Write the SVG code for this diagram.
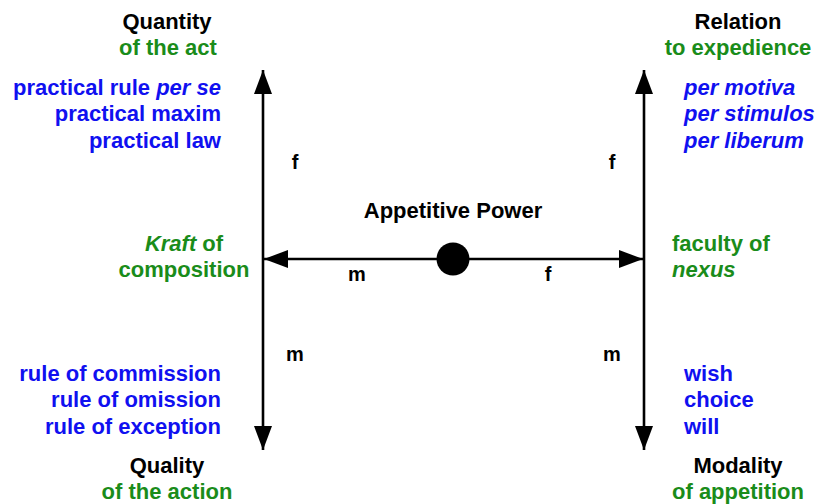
<svg xmlns="http://www.w3.org/2000/svg" width="818" height="504" viewBox="0 0 818 504">
<style>
text{font-family:"Liberation Sans",Arial,sans-serif;font-weight:bold;font-size:22px}
.k{fill:#000}
.g{fill:#1a8c1a}
.b{fill:#1010f0}
.i{font-style:italic}
.e{text-anchor:end}
.m{text-anchor:middle}
.s{font-size:20px}
.ln{stroke:#000;stroke-width:2.6;fill:none}
</style>
<defs>
<marker id="ah" viewBox="0 0 24 18" refX="24" refY="9" markerWidth="24" markerHeight="18" markerUnits="userSpaceOnUse" orient="auto">
<path d="M0,0 L24,9 L0,18 Z" fill="#000"/>
</marker>
</defs>
<rect width="818" height="504" fill="#fff"/>
<g id="connectors">
<line class="ln" x1="263" y1="259" x2="263" y2="70" marker-end="url(#ah)"/>
<line class="ln" x1="263" y1="259" x2="263" y2="450" marker-end="url(#ah)"/>
<line class="ln" x1="644" y1="259" x2="644" y2="70" marker-end="url(#ah)"/>
<line class="ln" x1="644" y1="259" x2="644" y2="450" marker-end="url(#ah)"/>
<line class="ln" x1="453" y1="259" x2="264" y2="259" marker-end="url(#ah)"/>
<line class="ln" x1="453" y1="259" x2="643" y2="259" marker-end="url(#ah)"/>
<text class="k s" x="295" y="169" text-anchor="middle">f</text>
<text class="k s" x="612" y="169" text-anchor="middle">f</text>
<text class="k s" x="295" y="361" text-anchor="middle">m</text>
<text class="k s" x="612" y="361" text-anchor="middle">m</text>
<text class="k s" x="357" y="281" text-anchor="middle">m</text>
<text class="k s" x="548" y="281" text-anchor="middle">f</text>
</g>
<g id="center">
<circle cx="453" cy="259" r="16.5" fill="#000"/>
<text class="k m" x="453" y="218">Appetitive Power</text>
</g>
<g id="quantity">
<text class="k m" x="167" y="29">Quantity</text>
<text class="g m" x="168" y="55">of the act</text>
<text class="b e" x="221" y="95">practical rule <tspan class="i">per se</tspan></text>
<text class="b e" x="221" y="121">practical maxim</text>
<text class="b e" x="221" y="148">practical law</text>
</g>
<g id="relation">
<text class="k m" x="738" y="29">Relation</text>
<text class="g m" x="738" y="55">to expedience</text>
<text class="b i" x="684" y="95">per motiva</text>
<text class="b i" x="684" y="121">per stimulos</text>
<text class="b i" x="684" y="148">per liberum</text>
</g>
<g id="kraft">
<text class="g m" x="184" y="251"><tspan class="i">Kraft</tspan> of</text>
<text class="g m" x="184" y="277">composition</text>
</g>
<g id="faculty">
<text class="g" x="672" y="251">faculty of</text>
<text class="g i" x="672" y="277">nexus</text>
</g>
<g id="quality">
<text class="b e" x="221" y="381">rule of commission</text>
<text class="b e" x="221" y="407">rule of omission</text>
<text class="b e" x="221" y="434">rule of exception</text>
<text class="k m" x="167" y="473">Quality</text>
<text class="g m" x="167" y="499">of the action</text>
</g>
<g id="modality">
<text class="b" x="684" y="381">wish</text>
<text class="b" x="684" y="407">choice</text>
<text class="b" x="684" y="434">will</text>
<text class="k m" x="738" y="473">Modality</text>
<text class="g m" x="738" y="499">of appetition</text>
</g>
</svg>
